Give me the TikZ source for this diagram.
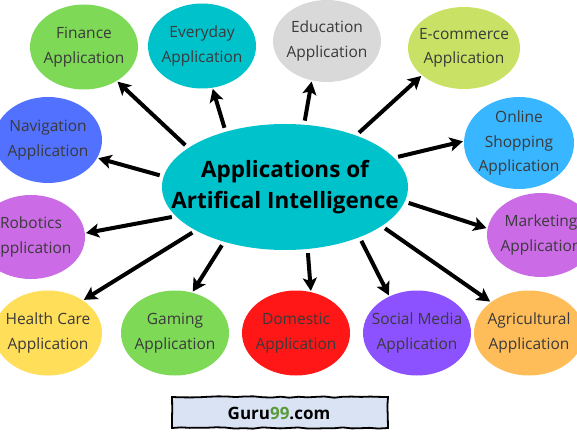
\documentclass[tikz,border=0pt]{standalone}
\usepackage{fontspec}
\setmainfont{Open Sans}
\usepackage{tikz}
\usetikzlibrary{shapes.geometric, arrows.meta, decorations.pathmorphing}
\usepackage{xcolor}

\definecolor{cgreen}{HTML}{7ED957}
\definecolor{cteal}{HTML}{00C2CB}
\definecolor{cgrey}{HTML}{D9D9D9}
\definecolor{clime}{HTML}{C9E265}
\definecolor{csky}{HTML}{38B6FF}
\definecolor{cblue}{HTML}{5271FF}
\definecolor{cpurple}{HTML}{CB6CE6}
\definecolor{cyellow}{HTML}{FFDE59}
\definecolor{cred}{HTML}{FF1616}
\definecolor{cviolet}{HTML}{8C52FF}
\definecolor{corange}{HTML}{FFBD59}
\definecolor{ctext}{HTML}{3A3A3A}
\definecolor{logofill}{HTML}{DAE3F3}
\definecolor{logogreen}{HTML}{5A9A3A}

\tikzstyle{app} = [ellipse, draw=none, inner xsep=-14pt, inner ysep=-14pt, minimum width=108pt, minimum height=85pt, align=center, text=ctext, font=\fontsize{15.5}{24.5}\selectfont]
\tikzstyle{arrow} = [line width=4pt, -{Stealth[length=13pt,width=14pt,inset=3pt]}, shorten >=1pt, shorten <=4pt]

\begin{document}
\begin{tikzpicture}[x=1pt,y=1pt]
		\useasboundingbox (0,0) rectangle (577,431);
		\clip (0,0) rectangle (577,431);

		% centre
		\node[ellipse, fill=cteal, inner xsep=-40pt, inner ysep=-10pt, minimum width=246pt, minimum height=126pt, align=center, font=\fontsize{22.5}{31}\selectfont\bfseries] (main) at (285,244) {Applications of\\Artifical Intelligence};

		% top row
		\node[app, fill=cgreen] (fin) at (84,384) {Finance\\Application};
		\node[app, fill=cteal] (every) at (202,385) {Everyday\\Application};
		\node[app, fill=cgrey, minimum height=82pt] (edu) at (327,390) {Education\\Application};
		\node[app, fill=clime, minimum width=112pt, minimum height=82pt] (ecom) at (464,383) {E-commerce\\Application};

		% sides
		\node[app, fill=cblue, minimum height=86pt] (nav) at (48,291) {Navigation\\Application};
		\node[app, fill=csky, minimum width=110pt, minimum height=92pt] (shop) at (519,288) {Online\\Shopping\\Application};
		\node[app, fill=cpurple, minimum height=84pt] (robo) at (31,194) {Robotics\\Application};
		\node[app, fill=cpurple, minimum height=84pt] (mark) at (541,196) {Marketing\\Application};

		% bottom row
		\node[app, fill=cyellow] (health) at (48,98) {Health Care\\Application};
		\node[app, fill=cgreen] (game) at (175,98) {Gaming\\Application};
		\node[app, fill=cred] (dom) at (296,98) {Domestic\\Application};
		\node[app, fill=cviolet] (social) at (417,98) {Social Media\\Application};
		\node[app, fill=corange, minimum width=110pt] (agri) at (529,98) {Agricultural\\Application};

		% arrows
		\draw[arrow] (main.158) -- (fin.314);
		\draw[arrow] (main.137) -- (every.284);
		\draw[arrow] (main.73) -- (edu.249);
		\draw[arrow] (main.36) -- (ecom.213);
		\draw[arrow] (main.15) -- (shop.178);
		\draw[arrow] (main.175) -- (nav.340);
		\draw[arrow] (main.195) -- (robo.4);
		\draw[arrow] (main.206) -- (health.43);
		\draw[arrow] (main.222) -- (game.67);
		\draw[arrow] (main.290) -- (dom.70);
		\draw[arrow] (main.326) -- (social.127);
		\draw[arrow] (main.338) -- (agri.141);
		\draw[arrow] (main.353) -- (mark.173);

		% logo
		\pgfmathsetseed{11}
		\draw[line width=1.8pt, fill=logofill, decorate, decoration={random steps, segment length=9pt, amplitude=0.8pt}] (172,3) rectangle (388,34);
		\node[font=\fontsize{17}{20}\selectfont\bfseries] (logo) at (279,17.5) {Guru\textcolor{logogreen}{99}.com};
	\end{tikzpicture}
\end{document}
